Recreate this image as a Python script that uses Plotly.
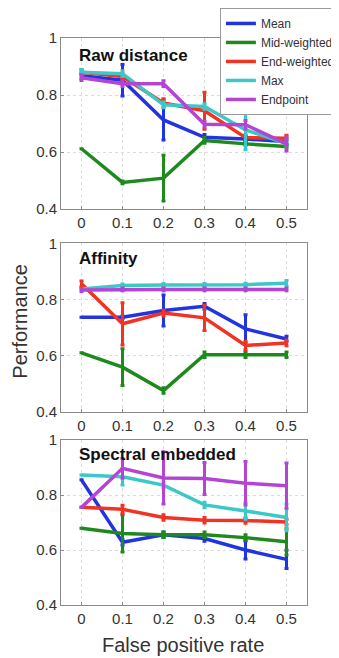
import plotly.graph_objects as go

fpr = [0, 0.1, 0.2, 0.3, 0.4, 0.5]
x_ticklabels = ["0", "0.1", "0.2", "0.3", "0.4", "0.5"]
y_tickvals = [0.4, 0.6, 0.8, 1.0]
y_ticklabels = ["0.4", "0.6", "0.8", "1"]

series_names = ["Mean", "Mid-weighted", "End-weighted", "Max", "Endpoint"]
panel_titles = ["Raw distance", "Affinity", "Spectral embedded"]

# Panel 1: Raw distance
raw_mean = [0.868, 0.852, 0.713, 0.652, 0.646, 0.637]
raw_mid = [0.612, 0.494, 0.509, 0.641, 0.629, 0.620]
raw_end = [0.880, 0.865, 0.772, 0.745, 0.651, 0.649]
raw_max = [0.880, 0.875, 0.766, 0.760, 0.678, 0.630]
raw_endpoint = [0.861, 0.840, 0.840, 0.698, 0.696, 0.629]
raw_mean_err = [0.01, 0.055, 0.07, 0.01, 0.01, 0.01]
raw_mid_err = [0.0, 0.005, 0.08, 0.01, 0.005, 0.005]
raw_end_err = [0.01, 0.01, 0.015, 0.065, 0.01, 0.01]
raw_max_err = [0.01, 0.01, 0.01, 0.01, 0.07, 0.01]
raw_endpoint_err = [0.01, 0.01, 0.01, 0.01, 0.015, 0.025]

# Panel 2: Affinity
aff_mean = [0.737, 0.737, 0.761, 0.776, 0.696, 0.660]
aff_mid = [0.611, 0.560, 0.477, 0.604, 0.604, 0.604]
aff_end = [0.856, 0.714, 0.752, 0.735, 0.637, 0.646]
aff_max = [0.838, 0.850, 0.852, 0.852, 0.853, 0.858]
aff_endpoint = [0.834, 0.836, 0.836, 0.836, 0.836, 0.836]
aff_mean_err = [0.0, 0.005, 0.055, 0.01, 0.05, 0.01]
aff_mid_err = [0.0, 0.065, 0.01, 0.01, 0.01, 0.01]
aff_end_err = [0.01, 0.075, 0.01, 0.045, 0.015, 0.01]
aff_max_err = [0.0, 0.005, 0.005, 0.005, 0.005, 0.01]
aff_endpoint_err = [0.005, 0.005, 0.005, 0.005, 0.005, 0.005]

# Panel 3: Spectral embedded
spe_mean = [0.855, 0.628, 0.655, 0.642, 0.600, 0.566]
spe_mid = [0.679, 0.660, 0.655, 0.655, 0.645, 0.630]
spe_end = [0.755, 0.748, 0.718, 0.708, 0.707, 0.702]
spe_max = [0.873, 0.866, 0.836, 0.764, 0.742, 0.718]
spe_endpoint = [0.755, 0.897, 0.862, 0.860, 0.843, 0.834]
spe_mean_err = [0.0, 0.01, 0.01, 0.01, 0.033, 0.033]
spe_mid_err = [0.0, 0.067, 0.01, 0.01, 0.01, 0.048]
spe_end_err = [0.0, 0.015, 0.01, 0.01, 0.01, 0.01]
spe_max_err = [0.0, 0.03, 0.01, 0.01, 0.03, 0.048]
spe_endpoint_err = [0.0, 0.036, 0.095, 0.058, 0.079, 0.082]

colors = ["#2233e0", "#1e8a1e", "#f03322", "#3cc8c8", "#b444d4"]

panels = [
    ([raw_mean, raw_mid, raw_end, raw_max, raw_endpoint],
     [raw_mean_err, raw_mid_err, raw_end_err, raw_max_err, raw_endpoint_err]),
    ([aff_mean, aff_mid, aff_end, aff_max, aff_endpoint],
     [aff_mean_err, aff_mid_err, aff_end_err, aff_max_err, aff_endpoint_err]),
    ([spe_mean, spe_mid, spe_end, spe_max, spe_endpoint],
     [spe_mean_err, spe_mid_err, spe_end_err, spe_max_err, spe_endpoint_err]),
]

fig = go.Figure()
for p, (vals, errs) in enumerate(panels):
    xa = "x" if p == 0 else f"x{p+1}"
    ya = "y" if p == 0 else f"y{p+1}"
    for i, name in enumerate(series_names):
        fig.add_trace(go.Scatter(
            x=fpr, y=vals[i], mode="lines", name=name,
            legendgroup=name, showlegend=(p == 0),
            line=dict(color=colors[i], width=3.5),
            error_y=dict(type="data", array=errs[i], color=colors[i],
                         thickness=3, width=2),
            xaxis=xa, yaxis=ya,
        ))

domains = [[0.698, 1.0], [0.340, 0.638], [0.0, 0.291]]
font_family = "Liberation Sans, Arial, Helvetica, sans-serif"
layout = dict(
    width=331, height=650,
    margin=dict(l=53, r=32, t=30, b=53, autoexpand=False),
    paper_bgcolor="white", plot_bgcolor="white",
    font=dict(family=font_family, color="#333333"),
    legend=dict(x=0.646, y=1.053, xanchor="left", yanchor="top",
                bgcolor="white", bordercolor="#9a9a9a", borderwidth=1,
                font=dict(size=12, color="#333333"), tracegroupgap=0,
                itemwidth=30),
    showlegend=True,
)
for p in range(3):
    xk = "xaxis" if p == 0 else f"xaxis{p+1}"
    yk = "yaxis" if p == 0 else f"yaxis{p+1}"
    ya = "y" if p == 0 else f"y{p+1}"
    xa = "x" if p == 0 else f"x{p+1}"
    layout[xk] = dict(
        domain=[0, 1], anchor=ya, range=[-0.05, 0.55],
        tickvals=fpr, ticktext=x_ticklabels,
        tickfont=dict(size=15, color="#333333"),
        showline=True, linecolor="#8a8a8a", linewidth=1, mirror=True,
        showgrid=True, gridcolor="#dcdcdc", griddash="dot", gridwidth=1,
        zeroline=False, ticks="inside", ticklen=3, tickcolor="#8a8a8a",
    )
    layout[yk] = dict(
        domain=domains[p], anchor=xa, range=[0.4, 1.0],
        tickvals=y_tickvals, ticktext=y_ticklabels,
        tickfont=dict(size=15, color="#333333"),
        showline=True, linecolor="#8a8a8a", linewidth=1, mirror=True,
        showgrid=True, gridcolor="#dcdcdc", griddash="dot", gridwidth=1,
        zeroline=False, ticks="inside", ticklen=3, tickcolor="#8a8a8a",
    )
fig.update_layout(**layout)

title_y = [0.895, 0.91, 0.915]
for p, t in enumerate(panel_titles):
    xa = "x" if p == 0 else f"x{p+1}"
    ya = "y" if p == 0 else f"y{p+1}"
    fig.add_annotation(
        text=f"<b>{t}</b>", xref=f"{xa} domain", yref=f"{ya} domain",
        x=0.065, y=title_y[p], xanchor="left", yanchor="middle",
        showarrow=False, font=dict(size=17, color="#111111"),
    )

fig.add_annotation(
    text="Performance", xref="paper", yref="paper",
    x=-0.17, y=0.5, xanchor="center", yanchor="middle", textangle=-90,
    showarrow=False, font=dict(size=20, color="#333333"),
)
fig.add_annotation(
    text="False positive rate", xref="paper", yref="paper",
    x=0.495, y=-0.07, xanchor="center", yanchor="middle",
    showarrow=False, font=dict(size=20, color="#333333"),
)

fig.write_html("out.html")
